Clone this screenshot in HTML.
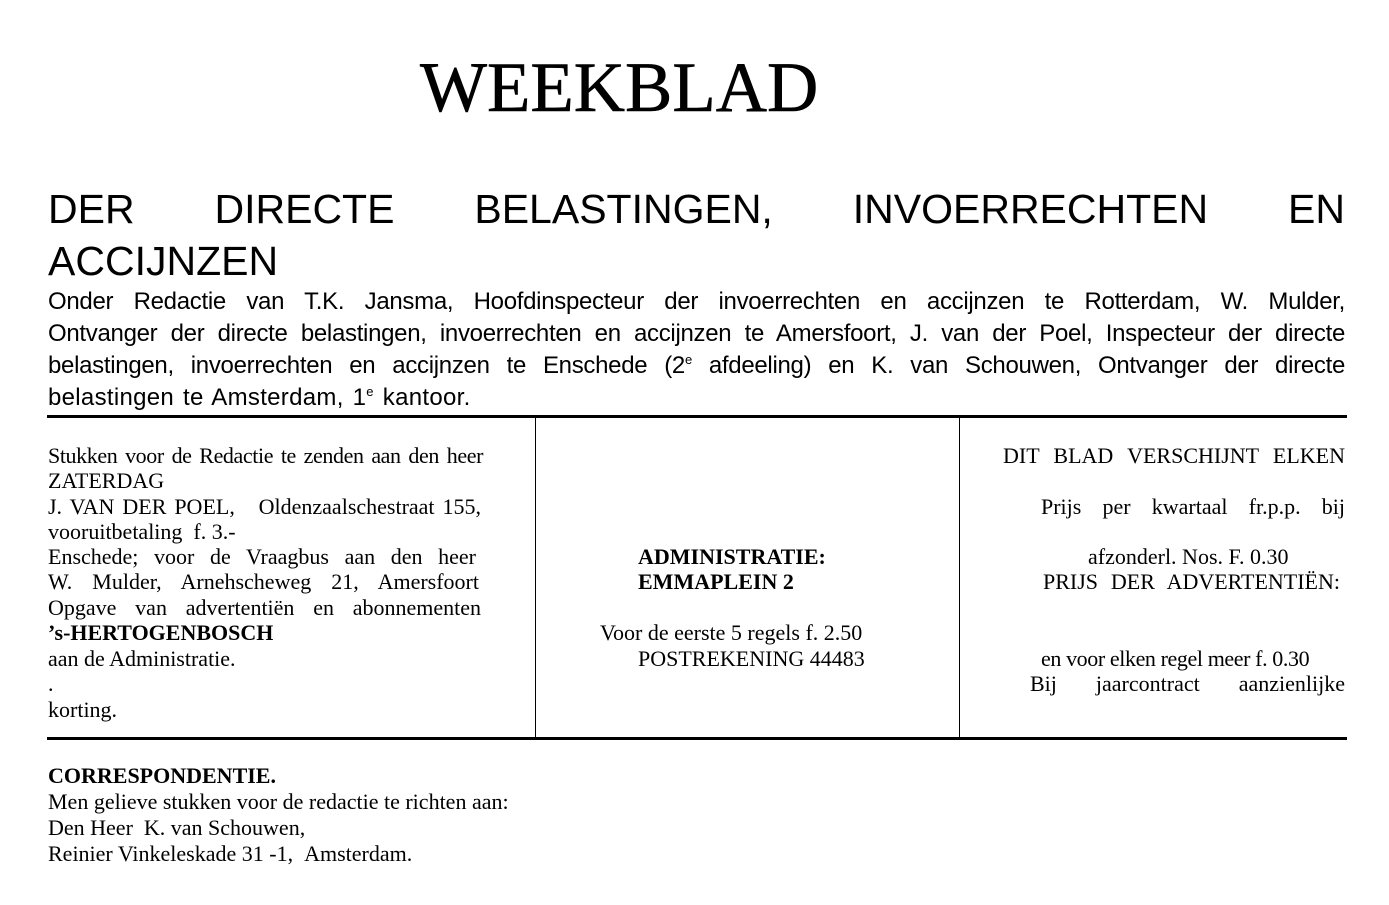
<!DOCTYPE html>
<html><head><meta charset="utf-8"><style>
body{margin:0;width:1389px;height:905px;background:#fff;position:relative;overflow:hidden;color:#000}
.a{position:absolute;white-space:nowrap}
.s{font-family:"Liberation Serif",serif;font-size:22px;line-height:20px}
.j{text-align:justify;text-align-last:justify;white-space:normal}
.b{font-weight:bold}
.p{font-family:"Liberation Sans",sans-serif}
.q{font-family:"Liberation Sans",sans-serif;font-size:24px;line-height:30px;width:1297px;left:48px}
sup{font-size:13px;line-height:0;vertical-align:0;position:relative;top:-9px}
</style></head><body>
<div class="a" style="left:420px;top:50px;font-family:'Liberation Serif',serif;font-size:71px;line-height:76px;-webkit-text-stroke:0.6px #000">WEEKBLAD</div>
<div class="a p j" style="left:48px;top:186px;width:1297px;font-size:41px;line-height:46px">DER DIRECTE BELASTINGEN, INVOERRECHTEN EN</div>
<div class="a p" style="left:48px;top:238px;font-size:41px;line-height:46px">ACCIJNZEN</div>
<div class="a q j" style="top:287px;letter-spacing:-0.3px">Onder Redactie van T.K. Jansma, Hoofdinspecteur der invoerrechten en accijnzen te Rotterdam, W. Mulder,</div>
<div class="a q j" style="top:319px;letter-spacing:-0.3px">Ontvanger der directe belastingen, invoerrechten en accijnzen te Amersfoort, J. van der Poel, Inspecteur der directe</div>
<div class="a q j" style="top:351px;letter-spacing:-0.3px">belastingen, invoerrechten en accijnzen te Enschede (2<sup>e</sup> afdeeling) en K. van Schouwen, Ontvanger der directe</div>
<div class="a q" style="top:383px;letter-spacing:0.3px;word-spacing:2px">belastingen te Amsterdam, 1<sup>e</sup> kantoor.</div>
<div class="a" style="left:47px;top:415px;width:1300px;height:3px;background:#000"></div>
<div class="a" style="left:47px;top:737px;width:1300px;height:3px;background:#000"></div>
<div class="a" style="left:535px;top:418px;width:1px;height:319px;background:#000"></div>
<div class="a" style="left:959px;top:418px;width:1px;height:319px;background:#000"></div>

<div class="a s j" style="left:48px;top:446px;width:435px;letter-spacing:-0.4px">Stukken voor de Redactie te zenden aan den heer</div>
<div class="a s" style="left:48px;top:471px">ZATERDAG</div>
<div class="a s j" style="left:48px;top:497px;width:433px">J. VAN DER POEL, &nbsp; Oldenzaalschestraat 155,</div>
<div class="a s" style="left:48px;top:522px">vooruitbetaling &nbsp;f. 3.-</div>
<div class="a s j" style="left:48px;top:547px;width:428px">Enschede; voor de Vraagbus aan den heer</div>
<div class="a s j" style="left:48px;top:572px;width:431px">W. Mulder, Arnehscheweg 21, Amersfoort</div>
<div class="a s j" style="left:48px;top:598px;width:433px">Opgave van advertentiën en abonnementen</div>
<div class="a s b" style="left:48px;top:623px">’s-HERTOGENBOSCH</div>
<div class="a s" style="left:48px;top:649px">aan de Administratie.</div>
<div class="a s" style="left:48px;top:674px">.</div>
<div class="a s" style="left:48px;top:700px">korting.</div>

<div class="a s b" style="left:638px;top:547px">ADMINISTRATIE:</div>
<div class="a s b" style="left:638px;top:572px">EMMAPLEIN 2</div>
<div class="a s" style="left:600px;top:623px">Voor de eerste 5 regels f. 2.50</div>
<div class="a s" style="left:638px;top:649px">POSTREKENING 44483</div>

<div class="a s j" style="left:1003px;top:446px;width:342px">DIT BLAD VERSCHIJNT ELKEN</div>
<div class="a s j" style="left:1041px;top:497px;width:304px">Prijs per kwartaal fr.p.p. bij</div>
<div class="a s" style="left:1088px;top:547px">afzonderl. Nos. F. 0.30</div>
<div class="a s j" style="left:1043px;top:572px;width:297px">PRIJS DER ADVERTENTIËN:</div>
<div class="a s" style="left:1041px;top:649px;letter-spacing:-0.4px">en voor elken regel meer f. 0.30</div>
<div class="a s j" style="left:1030px;top:674px;width:315px">Bij jaarcontract aanzienlijke</div>

<div class="a s b" style="left:48px;top:766px">CORRESPONDENTIE.</div>
<div class="a s" style="left:48px;top:792px">Men gelieve stukken voor de redactie te richten aan:</div>
<div class="a s" style="left:48px;top:818px">Den Heer &nbsp;K. van Schouwen,</div>
<div class="a s" style="left:48px;top:844px">Reinier Vinkeleskade 31 -1, &nbsp;Amsterdam.</div>
</body></html>
